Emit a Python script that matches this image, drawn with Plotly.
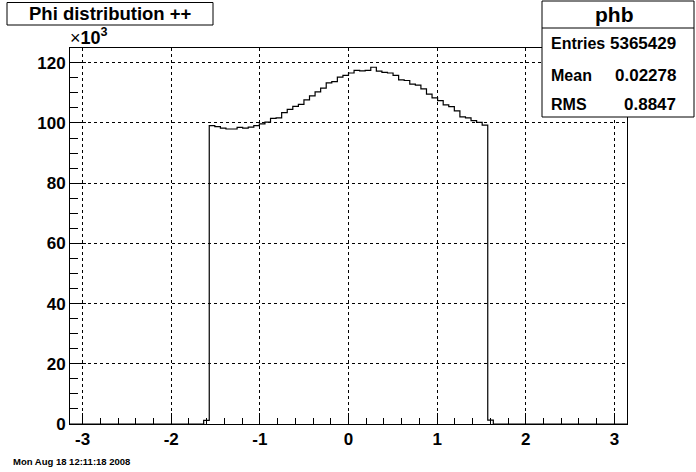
import numpy as np
import plotly.graph_objects as go

# ---- data (bin contents in units of 10^3), 100 bins over [-pi, pi] ----
n_bins = 100
first_bin = 24  # index of first non-empty bin
counts_k = [
    1.2,                                                    # bin 24
    99.1, 98.8, 98.3, 98.0, 98.0, 98.5, 98.3, 98.6, 99.1, 99.7,   # 25-34
    100.3, 101.5, 101.7, 103.4, 104.5, 105.5, 106.2, 107.7, 109.0, 110.3,  # 35-44
    111.6, 113.3, 113.7, 115.2, 115.8, 116.6, 117.5, 117.3, 117.5, 118.5,  # 45-54
    117.2, 116.8, 116.6, 115.8, 114.3, 114.1, 112.9, 112.6, 111.3, 109.6,  # 55-64
    108.3, 107.4, 106.0, 105.4, 104.0, 102.0, 101.7, 100.8, 100.2, 99.3,   # 65-74
    1.3,                                                    # bin 75
]
x_ticks = [-3, -2, -1, 0, 1, 2, 3]
x_tick_labels = ["-3", "-2", "-1", "0", "1", "2", "3"]
y_ticks = [0, 20, 40, 60, 80, 100, 120]

hist_name = "phb"
title_text = "Phi distribution ++"
stat_labels = ["Entries", "Mean", "RMS"]
stat_values = ["5365429", "0.02278", "0.8847"]
date_text = "Mon Aug 18 12:11:18 2008"

# ---- build full histogram ----
contents = np.zeros(n_bins)
contents[first_bin:first_bin + len(counts_k)] = counts_k
edges = np.linspace(-np.pi, np.pi, n_bins + 1)
xs = list(edges)
ys = list(contents) + [contents[-1]]

W, H = 696, 472
L, R, T, B = 70, 627, 48, 424


def px(x):
    return (x - L) / (R - L)


def py(y):
    return (B - y) / (B - T)


FONT = "Liberation Sans"

fig = go.Figure()
fig.add_trace(go.Scatter(
    x=xs, y=ys, mode="lines",
    line=dict(color="black", width=1.2, shape="hv"),
    hoverinfo="skip", showlegend=False,
))

axis_common = dict(
    showline=True, linecolor="black", linewidth=1, mirror=True,
    ticks="inside", tickcolor="black", tickwidth=1,
    showgrid=True, gridcolor="black", griddash="dot", gridwidth=1,
    zeroline=False,
    tickfont=dict(family=FONT, size=17, color="black", weight="bold"),
)

fig.update_xaxes(
    range=[-np.pi, np.pi], tickvals=x_ticks, ticktext=x_tick_labels, ticklen=11,
    minor=dict(dtick=0.2, tick0=0, ticks="inside", ticklen=6,
               tickcolor="black", showgrid=False),
    **axis_common,
)
fig.update_yaxes(
    range=[0, 124.9], tickvals=y_ticks, ticklen=16,
    minor=dict(dtick=5, tick0=0, ticks="inside", ticklen=8,
               tickcolor="black", showgrid=False),
    **axis_common,
)

shapes = []
annotations = []

# title box
shapes.append(dict(type="rect", xref="paper", yref="paper",
                   x0=px(7), x1=px(213), y0=py(25), y1=py(2.5),
                   line=dict(color="black", width=1), fillcolor="white",
                   layer="above"))
annotations.append(dict(xref="paper", yref="paper", x=px(110), y=py(14),
                        text=title_text, showarrow=False,
                        xanchor="center", yanchor="middle",
                        font=dict(family=FONT, size=18.5, color="black", weight="bold")))

# stats box
shapes.append(dict(type="rect", xref="paper", yref="paper",
                   x0=px(542), x1=px(694), y0=py(117), y1=py(1),
                   line=dict(color="black", width=1), fillcolor="white",
                   layer="above"))
shapes.append(dict(type="line", xref="paper", yref="paper",
                   x0=px(542), x1=px(694), y0=py(28), y1=py(28),
                   line=dict(color="black", width=1), layer="above"))
annotations.append(dict(xref="paper", yref="paper", x=px(614), y=py(15),
                        text=hist_name, showarrow=False,
                        xanchor="center", yanchor="middle",
                        font=dict(family=FONT, size=21, color="black", weight="bold")))
row_y = [44, 75.5, 105]
for lab, val, yy in zip(stat_labels, stat_values, row_y):
    annotations.append(dict(xref="paper", yref="paper", x=px(549), y=py(yy),
                            text=lab, showarrow=False,
                            xanchor="left", yanchor="middle",
                            font=dict(family=FONT, size=16, color="black", weight="bold")))
    annotations.append(dict(xref="paper", yref="paper", x=px(678), y=py(yy),
                            text=val, showarrow=False,
                            xanchor="right", yanchor="middle",
                            font=dict(family=FONT, size=17, color="black", weight="bold")))

# x10^3 label
annotations.append(dict(xref="paper", yref="paper", x=px(68), y=py(37),
                        text="×<b>10</b><sup><b>3</b></sup>", showarrow=False,
                        xanchor="left", yanchor="middle",
                        font=dict(family=FONT, size=18, color="black")))

# date stamp
annotations.append(dict(xref="paper", yref="paper", x=px(11), y=py(462),
                        text=date_text, showarrow=False,
                        xanchor="left", yanchor="middle",
                        font=dict(family=FONT, size=9.5, color="black", weight="bold")))

fig.update_layout(
    width=W, height=H,
    margin=dict(l=L, r=W - R, t=T, b=H - B, pad=0),
    paper_bgcolor="white", plot_bgcolor="white",
    shapes=shapes, annotations=annotations,
    showlegend=False,
)

fig.write_html(
    "out.html",
    config={"displayModeBar": False},
    post_script="document.body.style.margin='0';document.body.style.padding='0';",
)
